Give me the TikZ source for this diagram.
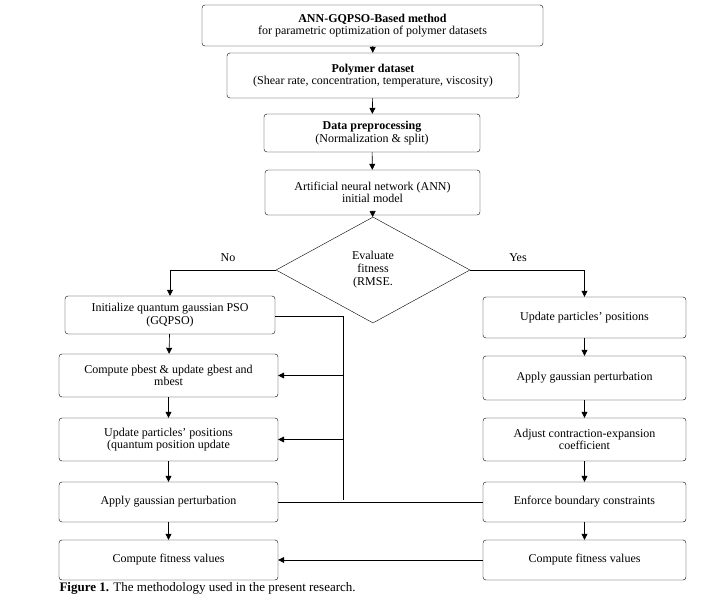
\documentclass[tikz,border=0pt]{standalone}
\usepackage{fontspec}
\setmainfont{Liberation Serif}
\usetikzlibrary{arrows.meta,shapes.geometric}
\begin{document}
\begin{tikzpicture}[x=1pt,y=-1pt,
  bx/.style={draw,rounded corners=3pt,align=center,font=\fontsize{12}{12.5}\selectfont,inner sep=1pt},
  ar/.style={-{Triangle[length=6pt,width=6pt]},line width=0.6pt},
  ln/.style={line width=0.6pt}]
\useasboundingbox (0,0) rectangle (704,600);
\newcommand{\bxn}[6]{\node[bx,minimum width=#4-#2,minimum height=#5-#3] (#1) at ({(#2+#4)/2},{(#3+#5)/2}) {#6};}
\bxn{t}{202}{5}{543}{46}{\textbf{ANN-GQPSO-Based method}\\for parametric optimization of polymer datasets}
\bxn{p}{227}{53}{519}{98}{\textbf{Polymer dataset}\\(Shear rate, concentration, temperature, viscosity)}
\bxn{d}{264}{114}{480}{152}{\textbf{Data preprocessing}\\(Normalization \& split)}
\bxn{a}{265}{170}{480}{215}{Artificial neural network (ANN)\\initial model}
\node[draw,diamond,aspect=1.9,minimum width=194,minimum height=106,inner sep=0,align=center,font=\fontsize{12}{13}\selectfont] (e) at (373,270) {Evaluate\\fitness\\(RMSE.};
\bxn{l1}{65}{296}{275}{334}{Initialize quantum gaussian PSO\\(GQPSO)}
\bxn{l2}{59}{354}{278}{397}{Compute pbest \& update gbest and\\mbest}
\bxn{l3}{59}{418}{278}{461}{Update particles' positions\\(quantum position update}
\bxn{l4}{59}{482}{278}{522}{Apply gaussian perturbation}
\bxn{l5}{59}{540}{278}{580}{Compute fitness values}
\bxn{r1}{483}{297}{686}{338}{Update particles' positions}
\bxn{r2}{483}{356}{686}{400}{Apply gaussian perturbation}
\bxn{r3}{483}{418}{686}{461}{Adjust contraction-expansion\\coefficient}
\bxn{r4}{483}{482}{686}{522}{Enforce boundary constraints}
\bxn{r5}{483}{540}{686}{580}{Compute fitness values}
\draw[ar] (t) -- (p); \draw[ar] (p) -- (d); \draw[ar] (d) -- (a); \draw[ar] (a) -- (e);
\draw[ar] (e.west) -| (l1.north);
\draw[ar] (e.east) -| (r1.north);
\node[font=\fontsize{12}{13}\selectfont] (no) at (228,258) {No};
\node[font=\fontsize{12}{13}\selectfont] (yes) at (518,258) {Yes};
\foreach \i/\j in {l1/l2,l2/l3,l3/l4,l4/l5,r1/r2,r2/r3,r3/r4,r4/r5} \draw[ar] (\i) -- (\j);
\coordinate (v1) at (343,316);
\coordinate (v2) at (343,500);
\draw[ln] (l1.east|-v1) -- (v1) -- (v2);
\draw[ar] (v1|-l2.east) -- (l2.east);
\draw[ar] (v1|-l3.east) -- (l3.east);
\draw[ln] (l4.east) -- (r4.west);
\draw[ar] (r5.west) -- (l5.east);
\node[anchor=west,font=\fontsize{13}{14}\selectfont] (cap) at (56,588) {\textbf{Figure 1.} The methodology used in the present research.};
\end{tikzpicture}
\end{document}
